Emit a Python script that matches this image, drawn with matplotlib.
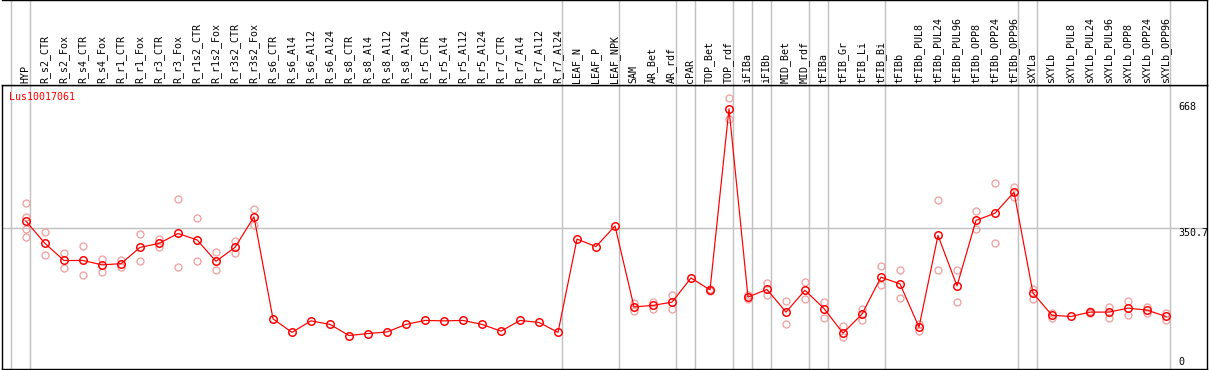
import matplotlib
matplotlib.use("Agg")
import matplotlib.pyplot as plt

gene = "Lus10017061"

samples = ["HYP", "R_s2_CTR", "R_s2_Fox", "R_s4_CTR", "R_s4_Fox", "R_r1_CTR", "R_r1_Fox",
           "R_r3_CTR", "R_r3_Fox", "R_r1s2_CTR", "R_r1s2_Fox", "R_r3s2_CTR", "R_r3s2_Fox",
           "R_s6_CTR", "R_s6_Al4", "R_s6_Al12", "R_s6_Al24", "R_s8_CTR", "R_s8_Al4",
           "R_s8_Al12", "R_s8_Al24", "R_r5_CTR", "R_r5_Al4", "R_r5_Al12", "R_r5_Al24",
           "R_r7_CTR", "R_r7_Al4", "R_r7_Al12", "R_r7_Al24", "LEAF_N", "LEAF_P", "LEAF_NPK",
           "SAM", "AR_Bet", "AR_rdf", "cPAR", "TOP_Bet", "TOP_rdf", "iFIBa", "iFIBb",
           "MID_Bet", "MID_rdf", "tFIBa", "tFIB_Gr", "tFIB_Li", "tFIB_Bi", "tFIBb",
           "tFIBb_PUL8", "tFIBb_PUL24", "tFIBb_PUL96", "tFIBb_OPP8", "tFIBb_OPP24",
           "tFIBb_OPP96", "sXYLa", "sXYLb", "sXYLb_PUL8", "sXYLb_PUL24", "sXYLb_PUL96",
           "sXYLb_OPP8", "sXYLb_OPP24", "sXYLb_OPP96"]

# mean expression per sample
means = [368, 312, 269, 269, 258, 261, 302, 312, 337, 321, 267, 302, 379,
         122, 88, 117, 108, 80, 85, 89, 108, 118, 117, 118, 108, 91, 118, 113, 88,
         323, 304, 356,
         152, 156, 164, 225, 195, 651,
         177, 196, 139, 194, 148, 86, 134, 227,
         210, 101, 332, 205, 370, 388, 441,
         187, 131, 128, 139, 139, 149, 144, 128]

# individual replicates (empty = hidden under the mean)
reps = [[413, 379, 348, 329], [342, 282], [287, 249], [305, 232], [274, 241], [270, 253],
        [335, 267], [322, 304], [423, 253], [375, 267], [290, 244], [319, 287], [399, 358],
        [], [], [], [], [], [], [], [], [], [], [], [], [], [], [], [],
        [], [], [],
        [163, 143], [165, 147], [181, 147], [], [198, 191], [678, 625],
        [181, 173], [213, 181], [167, 108], [214, 173], [165, 125], [104, 76], [148, 118], [254, 208],
        [244, 174], [92, 108], [421, 244], [244, 165], [393, 348], [464, 312], [455, 428],
        [197, 173], [138, 123], [], [137, 141], [153, 123], [167, 131], [151, 136], [138, 119]]

# index of last sample in each group
group_ends = [-1, 0, 28, 31, 34, 35, 37, 38, 39, 41, 42, 45, 52, 53, 60]

y_ticks = [668, 350.7, 0]
y_tick_labels = ["668", "350.7", "0"]

W, H = 1209, 370
fig = plt.figure(figsize=(W / 100, H / 100), dpi=100)
mono = "DejaVu Sans Mono"
px = 0.72
grey = "#c0c0c0"

left, right = 1.5, 1206.7
top_plot, bottom_plot = 85, 369
xlim = ((left - 26) / 19, (right - 26) / 19)

ax = fig.add_axes([left / W, (H - bottom_plot) / H, (right - left) / W, (bottom_plot - top_plot) / H])
hdr = fig.add_axes([left / W, (H - top_plot) / H, (right - left) / W, top_plot / H])

ax.set_xlim(*xlim)
ax.set_ylim(-4.3, 711)
hdr.set_xlim(*xlim)
hdr.set_ylim(0, top_plot)

for a in (ax, hdr):
    a.set_xticks([])
    a.set_yticks([])
    for s in a.spines.values():
        s.set_linewidth(1.4 * px)
        s.set_color("black")
    for g in group_ends:
        a.axvline(g + 0.23, color=grey, lw=1.4 * px, zorder=0)
hdr.spines["left"].set_visible(False)

ax.axhline(350.7, color=grey, lw=1.4 * px, zorder=0)

x = list(range(len(samples)))

# replicates
for i, r in enumerate(reps):
    if r:
        ax.plot([i] * len(r), r, "o", ms=7 * px, mfc="none", mec="#f0a0a0", mew=1.3 * px, zorder=2)

ax.plot(x, means, "-", color="red", lw=1.2 * px, zorder=3)
ax.plot(x, means, "o", ms=7.5 * px, mfc="none", mec="red", mew=1.5 * px, zorder=4)

# sample labels in header
for i, name in enumerate(samples):
    hdr.text(i - 0.03, 2, name, rotation=90, ha="center", va="bottom",
             family=mono, fontsize=7.2)

ax.text(-0.88, 681, gene, color="red", ha="left", va="center", family=mono, fontsize=7.2)

for v, lab in zip(y_ticks, y_tick_labels):
    off = 5 if v == 0 else -5
    ax.annotate(lab, (60.63, v), xytext=(0, off), textcoords="offset pixels",
                ha="left", va="center", family=mono, fontsize=7.2)

fig.savefig("out.png", dpi=100)
